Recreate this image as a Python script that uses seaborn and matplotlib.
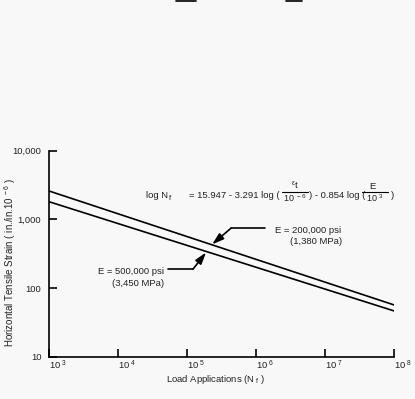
import seaborn as sns
import matplotlib.pyplot as plt
import pandas as pd
from matplotlib.lines import Line2D

# (log-log straight lines, end points)
load_apps = [1e3, 1e8]
strain_200k = [2590, 56.6]   # E = 200,000 psi
strain_500k = [1808, 46.3]   # E = 500,000 psi
modulus_labels = ["E = 200,000 psi", "E = 500,000 psi"]
y_ticks = [10, 100, 1000, 10000]
y_ticklabels = ["10", "100", "1,000", "10,000"]
x_ticks = [1e3, 1e4, 1e5, 1e6, 1e7, 1e8]

df = pd.DataFrame({
    "N": load_apps * 2,
    "strain": strain_200k + strain_500k,
    "E": [modulus_labels[0]] * 2 + [modulus_labels[1]] * 2,
})

sns.set_style("ticks")
plt.rcParams["font.family"] = ["Liberation Sans", "DejaVu Sans"]
plt.rcParams["mathtext.default"] = "regular"
plt.rcParams["figure.facecolor"] = "#f8f8f8"
plt.rcParams["axes.facecolor"] = "#f8f8f8"

W, H = 415, 399
TXT = "#222222"
fig = plt.figure(figsize=(W / 100, H / 100), dpi=100)
ax = fig.add_axes([49 / W, 1 - 356.7 / H, (394.3 - 49) / W, (356.7 - 150.7) / H])


def ptext(x, y, s, size=6.8, **kw):
    # text placed by pixel position (from top-left)
    kw.setdefault("va", "baseline")
    return fig.text(x / W, 1 - y / H, s, fontsize=size, color=TXT, **kw)


def pline(x0, x1, y):
    fig.add_artist(Line2D([x0 / W, x1 / W], [1 - y / H, 1 - y / H], color="black", lw=0.8))


sns.lineplot(data=df, x="N", y="strain", hue="E", palette=["black", "black"],
             linewidth=1.2, legend=False, ax=ax)
ax.set_xscale("log")
ax.set_yscale("log")
ax.set_xlim(1e3, 1e8)
ax.set_ylim(10, 10000)

sns.despine(ax=ax)
for s in ["left", "bottom"]:
    ax.spines[s].set_linewidth(1.2)
    ax.spines[s].set_color("black")

ax.set_yticks(y_ticks)
ax.set_yticklabels(y_ticklabels)
ax.set_xticks(x_ticks)
ax.set_xticklabels([r"$10^{\ %d}$" % e for e in range(3, 9)])
ax.minorticks_off()
ax.tick_params(direction="in", length=6, width=1.2, color="black",
               labelsize=6.8, labelcolor=TXT)
ax.tick_params(axis="y", pad=5.5)
ax.tick_params(axis="x", pad=1.5)
for lab in ax.get_xticklabels():
    lab.set_horizontalalignment("left")

ax.set_xlabel(r"Load Applications (N$_{\ f}$ )", fontsize=6.8, color=TXT)
ax.xaxis.set_label_coords((215 - 49) / 345, (356.7 - 380) / 206)
ax.xaxis.label.set_va("center")
ax.set_ylabel(r"Horizontal Tensile Strain ( in./in.10$^{\ -6}$ )", fontsize=7, color=TXT)
ax.yaxis.set_label_coords((10 - 49) / 345, (356.7 - 262) / 206)
ax.yaxis.label.set_va("center")

# equation  log Nf = 15.947 - 3.291 log(et/10^-6) - 0.854 log(E/10^3)
ptext(146, 198, "log N")
ptext(169, 200, "f", size=5.5)
ptext(189, 198, "= 15.947 - 3.291 log (")
ptext(294.5, 188.5, r"$^{ε}$t", ha="center")
pline(282, 308, 191.5)
ptext(283, 202, r"10$^{\ -6}$", size=6.5)
ptext(309, 198, ") - 0.854 log (")
ptext(372, 189, "E", ha="center")
pline(362, 388, 191.5)
ptext(366, 202, r"10$^{\ 3}$", size=6.5)
ptext(391, 198, ")")

# annotations
ptext(275, 232.5, modulus_labels[0])
ptext(290, 243.5, "(1,380 MPa)")
ptext(98, 274.5, modulus_labels[1])
ptext(112, 285.5, "(3,450 MPa)")

ax.plot([1.35e6, 4.3e5], [741, 741], color="black", lw=1.2)
ax.annotate("", xy=(2.3e5, 432), xytext=(4.3e5, 741),
            arrowprops=dict(arrowstyle="-|>,head_length=0.7,head_width=0.22",
                            color="black", lw=1.2, shrinkA=0, shrinkB=0))
ax.plot([5.3e4, 1.22e5], [189, 189], color="black", lw=1.2)
ax.annotate("", xy=(1.88e5, 330), xytext=(1.22e5, 189),
            arrowprops=dict(arrowstyle="-|>,head_length=0.7,head_width=0.22",
                            color="black", lw=1.2, shrinkA=0, shrinkB=0))

# cropped fraction bars at the very top of the image
fig.add_artist(Line2D([176 / W, 196 / W], [1 - 1 / H, 1 - 1 / H], color="black", lw=1.2))
fig.add_artist(Line2D([286 / W, 302 / W], [1 - 1 / H, 1 - 1 / H], color="black", lw=1.2))

fig.savefig("out.png", dpi=100, facecolor="#f8f8f8")
